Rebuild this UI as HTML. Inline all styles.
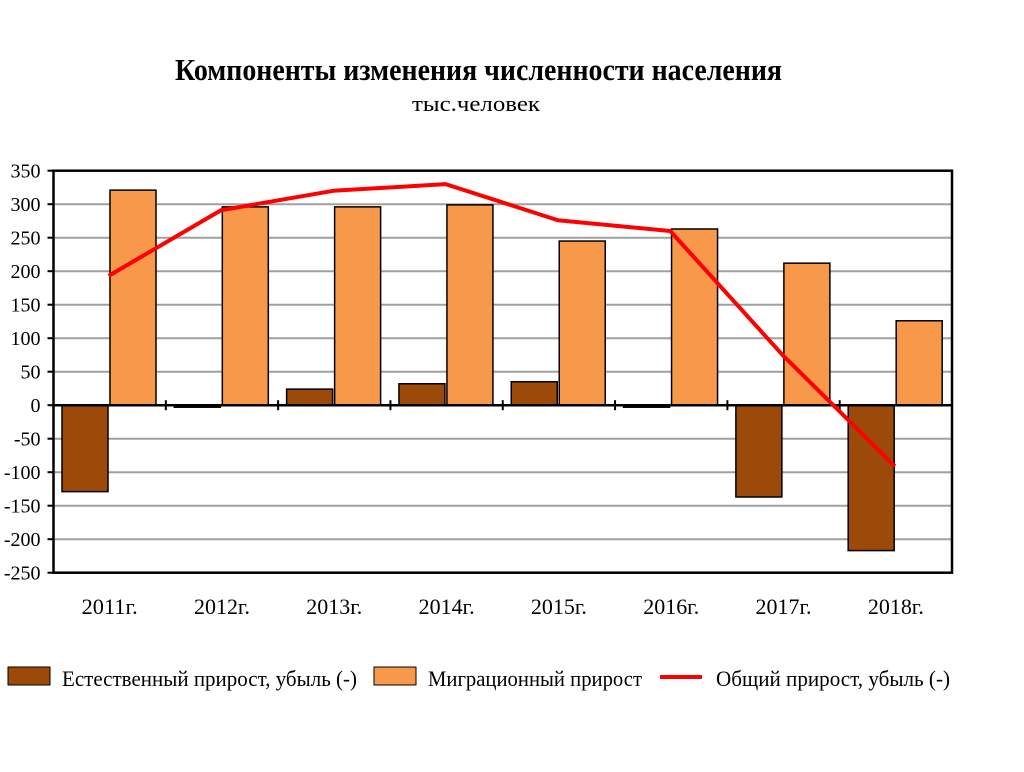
<!DOCTYPE html>
<html><head><meta charset="utf-8"><style>
body{margin:0;background:#fff;}
svg text{font-family:"Liberation Serif",serif;}
</style></head><body>
<svg width="1024" height="767">
<text x="175" y="80" font-size="31" font-weight="bold" textLength="607" lengthAdjust="spacingAndGlyphs">Компоненты изменения численности населения</text>
<text x="412" y="111" font-size="22" textLength="128" lengthAdjust="spacingAndGlyphs">тыс.человек</text>
<g id="grid"></g><g id="bars"></g><g id="axes"></g><g id="line"></g>
<g>
<rect x="8" y="667" width="42" height="18" fill="#9c4a0a" stroke="#000"/>
<text x="62" y="686" font-size="22" textLength="295" lengthAdjust="spacingAndGlyphs">Естественный прирост, убыль (-)</text>
<rect x="374" y="667" width="42" height="18" fill="#f7984b" stroke="#000"/>
<text x="428" y="686" font-size="22" textLength="214" lengthAdjust="spacingAndGlyphs">Миграционный прирост</text>
<line x1="660" y1="677" x2="702" y2="677" stroke="#f00" stroke-width="4"/>
<text x="716" y="686" font-size="22" textLength="234" lengthAdjust="spacingAndGlyphs">Общий прирост, убыль (-)</text>
</g>
</svg>
<script>
const categories=["2011г.","2012г.","2013г.","2014г.","2015г.","2016г.","2017г.","2018г."];
const natural=[-129,-3,24,32,35,-3,-137,-217];
const migration=[321,296,296,299,245,263,212,126];
const total=[193,291,320,330,276,260,75,-91];
const ticks=[350,300,250,200,150,100,50,0,-50,-100,-150,-200,-250];
const NS="http://www.w3.org/2000/svg";
const L=53.5,R=952,T=170.7,B=572.7,vmin=-250,vmax=350;
const cw=(R-L)/categories.length;
const y=v=>T+(vmax-v)*(B-T)/(vmax-vmin);
const x=i=>L+cw*i;
function mk(tag,attrs,parent){const e=document.createElementNS(NS,tag);for(const k in attrs)e.setAttribute(k,attrs[k]);document.getElementById(parent).appendChild(e);return e;}
ticks.forEach(t=>{
 if(t!==vmax&&t!==vmin&&t!==0){const g=mk('line',{x1:L,x2:R,y1:y(t),y2:y(t),stroke:'#a0a0a0','stroke-width':2},'grid');
 
 }
 const tl=mk('line',{x1:L-6,x2:L,y1:y(t),y2:y(t),stroke:'#000','stroke-width':2},'axes');
 
 
 const tx=mk('text',{x:L-13,y:y(t)+7,'text-anchor':'end','font-size':20},'axes');tx.textContent=t;
 
 
});
const fr=mk('rect',{x:L,y:T,width:R-L,height:B-T,fill:'none',stroke:'#000','stroke-width':2.5},'axes');


categories.forEach((c,i)=>{
 const b0=x(i)+8.5,bw=46;
 const v1=natural[i],v2=migration[i];
 const r1=mk('rect',{x:b0,y:Math.min(y(v1),y(0)),width:bw,height:Math.max(1.5,Math.abs(y(v1)-y(0))),fill:'#9c4a0a',stroke:'#000','stroke-width':1.5},'bars');
 
 
 const r2=mk('rect',{x:b0+bw+2,y:Math.min(y(v2),y(0)),width:bw,height:Math.abs(y(v2)-y(0)),fill:'#f7984b',stroke:'#000','stroke-width':1.5},'bars');
 
 
 const lb=mk('text',{x:x(i)+cw/2-28,y:614,'font-size':22,textLength:56,lengthAdjust:'spacingAndGlyphs'},'axes');lb.textContent=c;
 
 
 if(i>0){const tk=mk('line',{x1:x(i),x2:x(i),y1:y(0)-5,y2:y(0)+5,stroke:'#000','stroke-width':2},'axes');
 
 }
});
const zl=mk('line',{x1:L,x2:R,y1:y(0),y2:y(0),stroke:'#000','stroke-width':2.5},'axes');


const pl=mk('polyline',{points:total.map((v,i)=>(x(i)+cw/2-1)+','+y(v)).join(' '),fill:'none',stroke:'#f00','stroke-width':4,'stroke-linejoin':'round'},'line');


</script>
</body></html>
